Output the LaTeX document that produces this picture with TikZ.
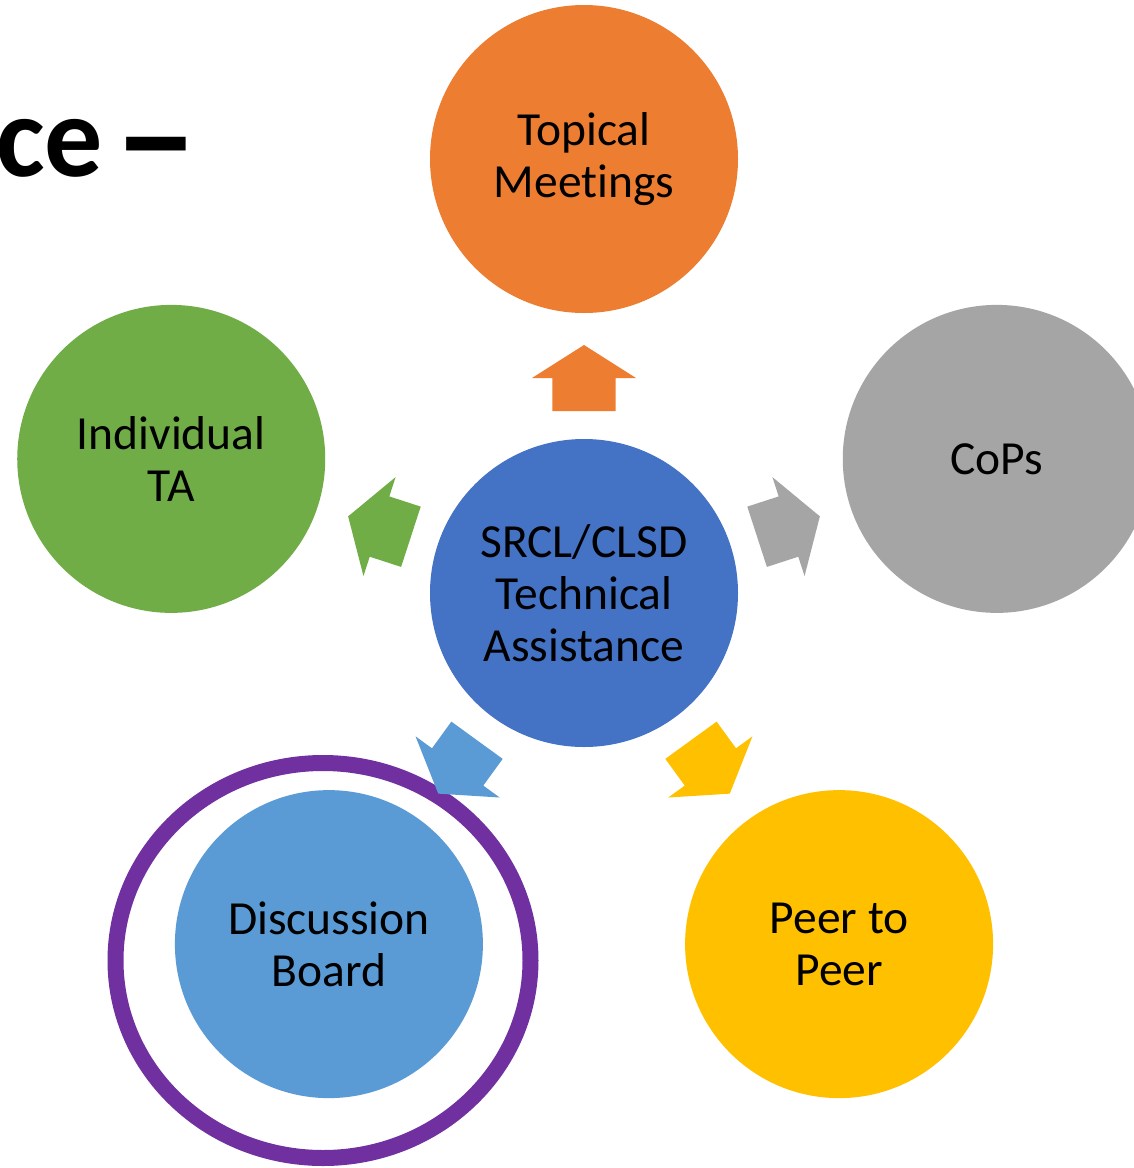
\documentclass[tikz,border=0pt]{standalone}
\usepackage{fontspec}
\setmainfont{Carlito}[Ligatures={NoCommon}]
\definecolor{cOrange}{HTML}{ED7D31}
\definecolor{cBlue}{HTML}{4472C4}
\definecolor{cGreen}{HTML}{70AD47}
\definecolor{cGray}{HTML}{A5A5A5}
\definecolor{cLightBlue}{HTML}{5B9BD5}
\definecolor{cGold}{HTML}{FFC000}
\definecolor{cPurple}{HTML}{7030A0}
\begin{document}
\begin{tikzpicture}[x=1pt,y=1pt,
  bubble/.style={circle, minimum size=308pt, inner sep=0pt, align=center,
    font=\fontsize{47.5}{52}\selectfont, text=black},
  ring/.style={draw=cPurple, line width=16pt},
  titletext/.style={anchor=base west, inner sep=0pt,
    font=\fontsize{116}{130}\selectfont\bfseries, text=black}]
\useasboundingbox (0,0) rectangle (1134,-1168);
\clip (0,0) rectangle (1134,-1168);
\fill[white] (0,0) rectangle (1134,-1168);
\coordinate (ctr) at (584,-593);
% title fragment
\node[titletext] (title) at (-4,-176) {ce\hspace{11pt}\raisebox{-12pt}{\scalebox{1.45}[1.35]{–}}};
% highlight ring
\draw[ring] (323,-960.5) ellipse [x radius=207.5, y radius=197.5];
% bubbles
\node[bubble, fill=cBlue] (hub) at (ctr) {SRCL/CLSD\\Technical\\Assistance};
\node[bubble, fill=cOrange] (topical) at ([shift={(90:434)}]ctr) {Topical\\Meetings};
\node[bubble, fill=cGreen] (indiv) at ([shift={(162:434)}]ctr) {Individual\\TA};
\node[bubble, fill=cGray] (cops) at ([shift={(18:434)}]ctr) {CoPs};
\node[bubble, fill=cLightBlue] (disc) at ([shift={(234:434)}]ctr) {Discussion\\Board};
\node[bubble, fill=cGold] (peer) at ([shift={(306:434)}]ctr) {Peer to\\Peer};
% block arrows
\foreach \ang/\col in {90/cOrange,162/cGreen,18/cGray,234/cLightBlue,306/cGold}{
  \begin{scope}[shift={(ctr)}, rotate=\ang]
    \fill[\col] (182,-31.7) -- (215,-31.7) -- (215,-52) -- (248,0)
      -- (215,52) -- (215,31.7) -- (182,31.7) -- cycle;
  \end{scope}
}
\end{tikzpicture}
\end{document}
